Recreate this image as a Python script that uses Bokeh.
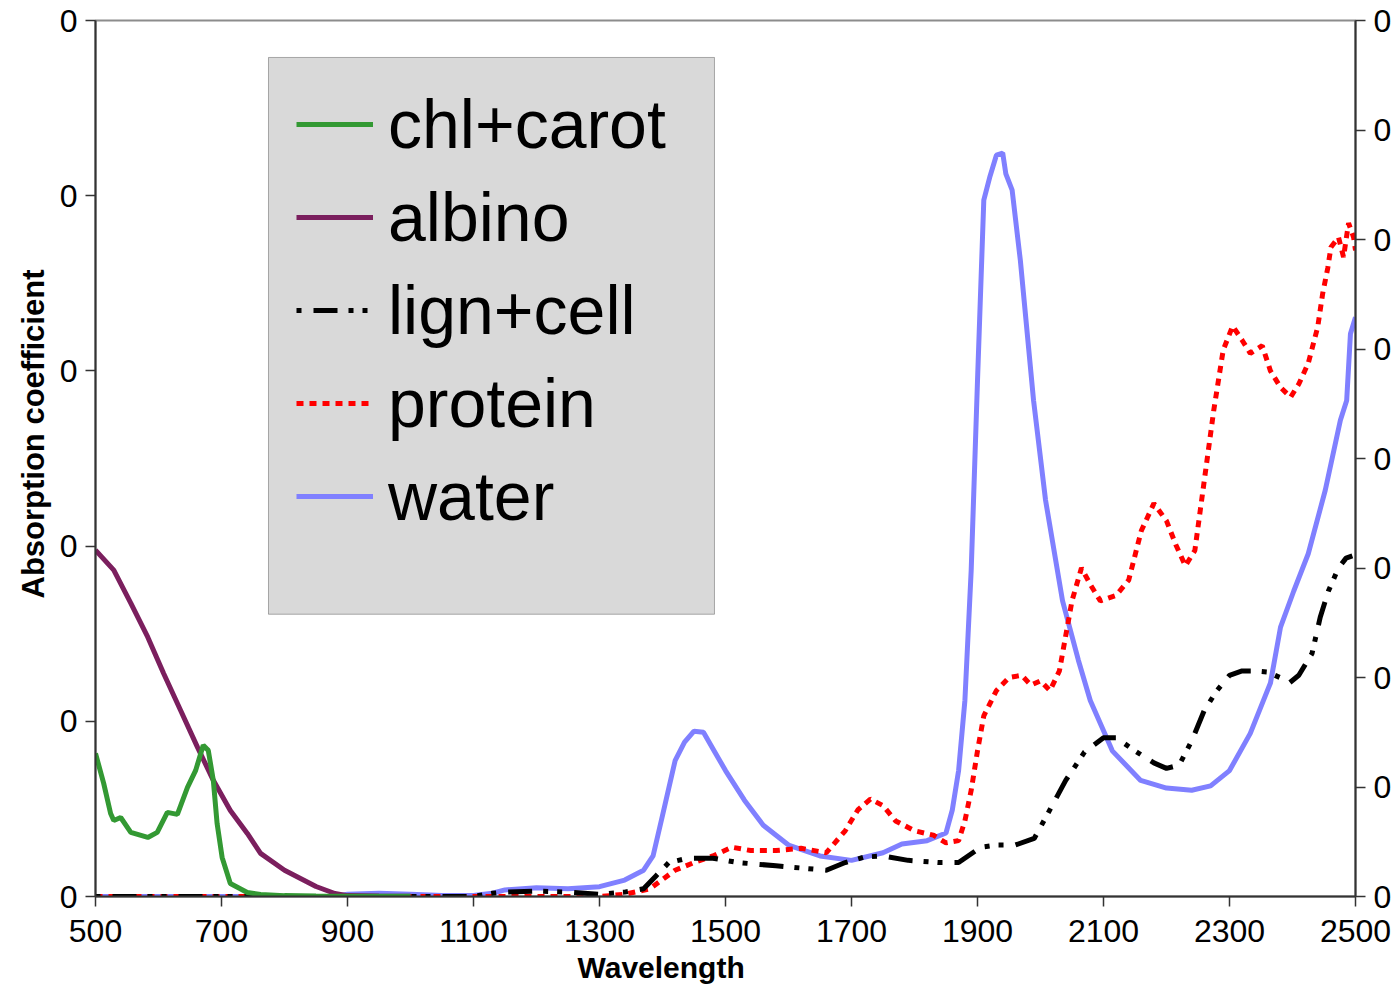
from bokeh.plotting import figure
from bokeh.models import (Range1d, LinearAxis, FixedTicker, Legend, LegendItem, BoxAnnotation, Title)
from bokeh.embed import file_html
from bokeh.resources import INLINE

# ---------------- data ----------------
chl_wl = [500, 513, 524, 529, 540, 556, 583, 598, 614, 630, 646, 659, 671, 679, 687,
          693, 701, 714, 741, 762, 800, 850, 900, 950, 1000]
chl_val = [0.817, 0.646, 0.474, 0.434, 0.451, 0.366, 0.337, 0.366, 0.480, 0.469, 0.623,
           0.720, 0.863, 0.834, 0.663, 0.417, 0.223, 0.074, 0.023, 0.011, 0.005, 0.003,
           0.002, 0.002, 0.002]

alb_wl = [500, 529, 556, 583, 608, 635, 662, 687, 714, 741, 762, 800, 850, 880, 900, 950, 1000]
alb_val = [1.977, 1.863, 1.674, 1.480, 1.274, 1.063, 0.851, 0.663, 0.491, 0.360, 0.246,
           0.150, 0.057, 0.017, 0.005, 0.003, 0.002]

lign_wl = [500, 700, 900, 1100, 1130, 1150, 1200, 1250, 1300, 1340, 1370, 1390, 1410, 1440,
           1480, 1520, 1580, 1620, 1660, 1690, 1720, 1750, 1790, 1840, 1870, 1885, 1905,
           1930, 1960, 1990, 2010, 2040, 2070, 2100, 2120, 2150, 2180, 2200, 2220, 2240,
           2260, 2280, 2300, 2320, 2340, 2360, 2380, 2395, 2410, 2431, 2444, 2457, 2473,
           2485, 2495]
lign_val = [0.0, 0.0, 0.0, 0.0, 0.03, 0.04, 0.05, 0.04, 0.02, 0.04, 0.07, 0.19, 0.31, 0.35,
            0.35, 0.31, 0.28, 0.26, 0.24, 0.31, 0.36, 0.37, 0.33, 0.31, 0.31, 0.37, 0.45,
            0.47, 0.47, 0.53, 0.74, 1.06, 1.32, 1.45, 1.45, 1.33, 1.22, 1.17, 1.20, 1.42,
            1.70, 1.88, 2.02, 2.06, 2.06, 2.05, 2.00, 1.95, 2.02, 2.22, 2.55, 2.79, 3.00,
            3.09, 3.11]

prot_wl = [500, 700, 900, 1100, 1300, 1340, 1380, 1420, 1450, 1480, 1510, 1540, 1580, 1620,
           1660, 1690, 1710, 1730, 1750, 1770, 1800, 1830, 1850, 1870, 1880, 1890, 1900,
           1910, 1930, 1950, 1970, 1985, 2000, 2015, 2030, 2050, 2065, 2080, 2095, 2120,
           2140, 2160, 2180, 2200, 2215, 2230, 2245, 2260, 2275, 2290, 2305, 2320, 2333,
           2352, 2365, 2381, 2397, 2410, 2425, 2440, 2448, 2456, 2461, 2473, 2481, 2489,
           2497, 2500]
prot_val = [0.0, 0.0, 0.0, 0.0, 0.0, 0.02, 0.07, 0.24, 0.31, 0.37, 0.45, 0.42, 0.42, 0.44,
            0.40, 0.60, 0.79, 0.89, 0.83, 0.69, 0.60, 0.56, 0.49, 0.51, 0.69, 0.97, 1.33,
            1.65, 1.88, 2.00, 2.02, 1.93, 1.97, 1.88, 2.06, 2.70, 3.00, 2.84, 2.70, 2.75,
            2.89, 3.34, 3.59, 3.43, 3.21, 3.02, 3.16, 3.80, 4.44, 4.99, 5.21, 5.08, 4.96,
            5.03, 4.80, 4.65, 4.56, 4.68, 4.87, 5.20, 5.51, 5.74, 5.93, 6.02, 5.84, 6.15,
            6.02, 5.90]

water_wl = [500, 600, 700, 800, 880, 900, 950, 1000, 1050, 1100, 1130, 1150, 1200, 1250,
            1300, 1340, 1370, 1385, 1400, 1420, 1435, 1450, 1465, 1480, 1500, 1530, 1560,
            1600, 1650, 1700, 1750, 1780, 1820, 1850, 1860, 1870, 1880, 1890, 1900, 1910,
            1920, 1930, 1940, 1945, 1955, 1968, 1989, 2008, 2035, 2060, 2079, 2114, 2159,
            2200, 2240, 2270, 2300, 2333, 2365, 2381, 2402, 2425, 2452, 2476, 2486, 2492,
            2500]
water_val = [0.0, 0.0, 0.0, 0.0, 0.0, 0.02, 0.03, 0.02, 0.01, 0.01, 0.03, 0.06, 0.08, 0.07,
             0.09, 0.15, 0.24, 0.37, 0.74, 1.24, 1.41, 1.51, 1.50, 1.35, 1.15, 0.88, 0.65,
             0.47, 0.37, 0.33, 0.40, 0.48, 0.51, 0.58, 0.79, 1.15, 1.79, 2.98, 4.71, 6.36,
             6.58, 6.77, 6.79, 6.60, 6.45, 5.81, 4.53, 3.62, 2.70, 2.16, 1.79, 1.33, 1.06,
             0.99, 0.97, 1.01, 1.15, 1.49, 1.95, 2.46, 2.79, 3.13, 3.71, 4.35, 4.53, 5.14,
             5.29]

x_ticks = [500, 700, 900, 1100, 1300, 1500, 1700, 1900, 2100, 2300, 2500]
left_ticks = [0, 1, 2, 3, 4, 5]
right_ticks = [0, 1, 2, 3, 4, 5, 6, 7, 8]
series_names = ["chl+carot", "albino", "lign+cell", "protein", "water"]
x_title = "Wavelength"
y_title = "Absorption coefficient"

# ---------------- figure ----------------
FONT = "Liberation Sans"
AXC = "#333333"

p = figure(width=1396, height=999, output_backend="svg", toolbar_location=None,
           x_range=Range1d(500, 2500), y_range=Range1d(0, 5),
           min_border_left=95, min_border_right=41, min_border_top=20,
           min_border_bottom=103)
p.extra_y_ranges = {"right": Range1d(0, 8)}
p.grid.visible = False
p.background_fill_color = "white"
p.border_fill_color = "white"
p.outline_line_color = "#8c8c8c"
p.outline_line_width = 2

def style_axis(ax):
    ax.axis_line_color = AXC
    ax.axis_line_width = 2
    ax.major_tick_line_color = AXC
    ax.major_tick_line_width = 1.5
    ax.major_tick_in = 0
    ax.major_tick_out = 10
    ax.minor_tick_line_color = None
    ax.major_label_text_font = FONT
    ax.major_label_text_font_size = "32px"
    ax.major_label_text_color = "black"

xa = p.xaxis[0]
style_axis(xa)
xa.ticker = FixedTicker(ticks=x_ticks)
xa.major_label_standoff = 13

ya = p.yaxis[0]
style_axis(ya)
ya.ticker = FixedTicker(ticks=left_ticks)
ya.major_label_overrides = {t: "0" for t in left_ticks}
ya.major_label_standoff = 8

ra = LinearAxis(y_range_name="right")
style_axis(ra)
ra.ticker = FixedTicker(ticks=right_ticks)
ra.major_label_overrides = {t: "0" for t in right_ticks}
ra.major_label_standoff = 8
p.add_layout(ra, "right")

# axis titles (slightly off-centre, as in the original)
xt = Title(text=x_title, align="left", offset=482, standoff=8,
           text_font=FONT, text_font_size="30px", text_font_style="bold",
           text_color="black")
p.add_layout(xt, "below")
yt = Title(text=y_title, align="left", offset=298, standoff=12,
           text_font=FONT, text_font_size="31px", text_font_style="bold",
           text_color="black")
p.add_layout(yt, "left")

# legend background panel (placed in the upper-left part of the plot area)
panel = BoxAnnotation(left=774.6, right=1482.5, bottom=1.611, top=4.789,
                      fill_color="#d9d9d9", fill_alpha=1.0,
                      line_color="black", line_width=1, level="underlay")
p.add_layout(panel)

LW = 5
r_water = p.line(water_wl, water_val, y_range_name="right", line_color="#8080ff",
                 line_width=LW)
r_prot = p.line(prot_wl, prot_val, y_range_name="right", line_color="#ff0000",
                line_width=LW, line_dash="7 6")
r_lign = p.line(lign_wl, lign_val, y_range_name="right", line_color="black",
                line_width=LW, line_dash="24 11 5 9 5 12", line_dash_offset=49)
r_alb = p.line(alb_wl, alb_val, line_color="#7b1f5e", line_width=LW)
r_chl = p.line(chl_wl, chl_val, line_color="#339933", line_width=LW)

renderers = [r_chl, r_alb, r_lign, r_prot, r_water]
legend = Legend(items=[LegendItem(label=n, renderers=[r]) for n, r in zip(series_names, renderers)],
                location=(201, 358))
legend.background_fill_alpha = 0
legend.border_line_color = None
legend.label_text_font = FONT
legend.label_text_font_size = "68px"
legend.label_text_color = "black"
legend.glyph_width = 77
legend.glyph_height = 56
legend.label_height = 84
legend.label_standoff = 15
legend.padding = 0
legend.spacing = 9
legend.margin = 0
p.add_layout(legend, "center")

open("out.html", "w").write(file_html(p, INLINE))
